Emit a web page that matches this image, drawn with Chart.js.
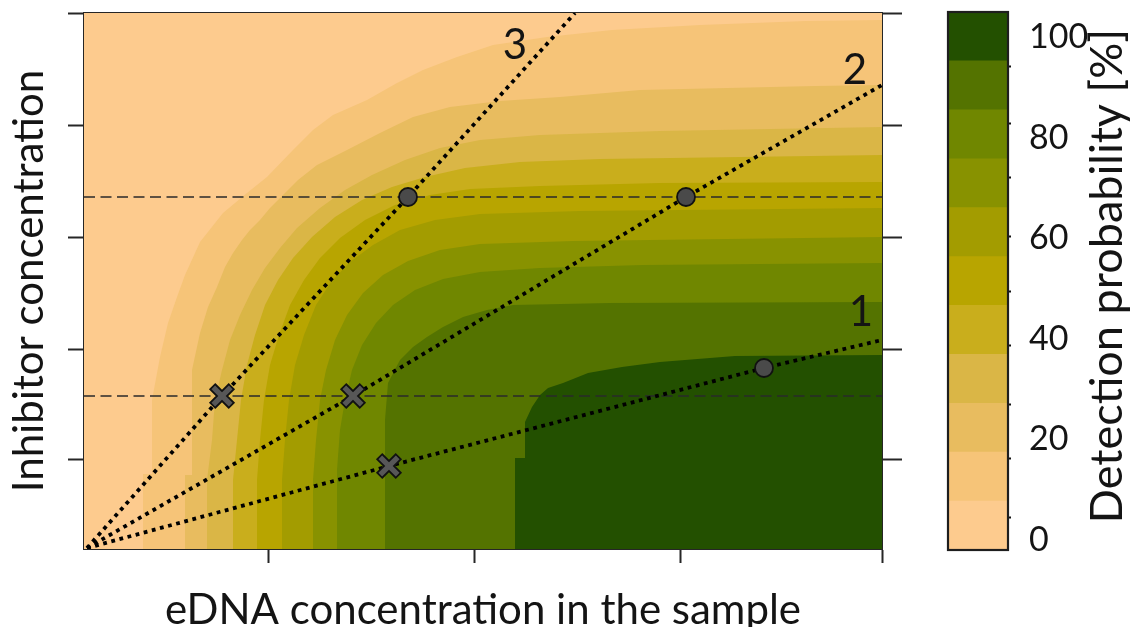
<!DOCTYPE html>
<html><head><meta charset="utf-8">
<script src="https://cdn.jsdelivr.net/npm/chart.js@4/dist/chart.umd.min.js"></script>
<style>
html,body{margin:0;padding:0;background:#fff;}
#wrap{position:relative;width:1132px;height:627px;overflow:hidden;background:#fff;}
#main{position:absolute;left:0;top:0;}
#cbar{position:absolute;left:940px;top:0;}
</style></head><body>
<div id="wrap"><canvas id="main" width="940" height="627"></canvas><canvas id="cbar" width="192" height="627"></canvas></div>
<script>
// ---------- data (arbitrary units: x = eDNA, y = inhibitor) ----------
const xTickValues = [184, 390, 596, 798];
const yTickValues = [89, 200, 312, 424, 536];

// iso-probability boundaries of the detection-probability field (5 %, 15 %, ... 95 %)
const fieldTop = [[0,536],[798,536]];
const iso05 = [[59,0],[59,75],[68,75],[68,149],[76,192],[84,226],[93,252],[101,274],[116,307],[139,336],[163,356],[183,372],[209,399],[229,419],[249,434],[283,449],[313,466],[339,479],[373,492],[409,504],[463,512],[528,519],[616,524],[722,528],[798,529]];
const iso15 = [[101,0],[101,74],[108,74],[108,179],[116,216],[124,242],[133,262],[141,282],[149,296],[158,309],[166,319],[176,329],[186,341],[196,351],[214,369],[233,384],[263,399],[296,416],[329,432],[366,442],[416,448],[476,452],[556,459],[731,463],[798,464]];
const iso25 = [[123,0],[123,69],[128,109],[131,149],[138,179],[146,209],[156,234],[168,259],[181,281],[196,301],[213,321],[236,341],[261,359],[288,374],[321,389],[356,401],[396,409],[456,414],[576,418],[798,422]];
const iso35 = [[149,0],[149,69],[153,109],[157,149],[163,184],[171,214],[181,244],[194,269],[209,291],[228,312],[251,332],[278,349],[308,362],[341,372],[381,381],[436,387],[516,390],[798,394]];
const iso45 = [[173,0],[173,69],[176,109],[180,149],[186,184],[195,214],[206,244],[220,269],[236,291],[256,311],[281,329],[311,344],[346,354],[386,360],[456,363],[576,366],[798,367]];
const iso55 = [[198,0],[198,69],[201,109],[205,149],[211,184],[220,214],[232,244],[247,267],[266,287],[289,304],[316,319],[351,329],[396,335],[496,338],[798,341]];
const iso65 = [[229,0],[229,69],[232,109],[236,149],[242,179],[251,209],[263,234],[279,256],[299,274],[324,288],[356,299],[396,305],[489,308],[798,312]];
const iso75 = [[253,0],[253,79],[256,119],[261,149],[268,179],[278,204],[292,226],[309,244],[331,259],[359,270],[396,277],[456,281],[559,284],[798,286]];
const iso85 = [[301,0],[301,129],[304,166],[316,189],[329,202],[343,212],[359,222],[379,232],[403,239],[429,244],[526,246],[798,247]];
const iso95 = [[431,0],[431,91],[441,91],[441,127],[448,142],[456,154],[464,161],[479,166],[504,176],[538,182],[576,187],[651,193],[798,194]];

// dotted ratio lines 1, 2, 3
const ratio1 = [[3,1],[305,83],[680,181],[798,209]];
const ratio2 = [[3,1],[269,153],[602,352],[798,464]];
const ratio3 = [[3,1],[138,153],[324,352],[491,536]];
const ratioNames = ['1', '2', '3'];
// dashed inhibitor levels
const inhibitorLevels = [153, 352];
// markers
const crossPoints = [[138,153],[269,153],[305,83]];
const circlePoints = [[324,352],[602,352],[680,181]];

// colour bar
const cbBandEdges = [-2, 7.73, 17.45, 27.18, 36.91, 46.64, 56.36, 66.09, 75.82, 85.55, 95.27, 105];
const cbTickValues = [0, 20, 40, 60, 80, 100];
const cbMinorTicks = [4.4, 16.1, 27.0, 38.6, 49.5, 60.4, 72.0, 82.9, 94.2];

// ---------- styles ----------
const bandColors = ['#fdcb8e','#f6c478','#e8bc5f','#dab646','#c9ae1c','#b8a500','#a39c00','#889200','#708700','#547300','#235000'];
const tagAnchors = [[777,237],[771,479],[431,504]];
const FONT = 'Lato';
const INK = '#141414';
const AX = '#262626';

const P = a => a.map(([x, y]) => ({x, y}));
const isolines = [fieldTop, iso05, iso15, iso25, iso35, iso45, iso55, iso65, iso75, iso85, iso95];

const datasets = [];
isolines.forEach((arr, k) => {
  datasets.push({type:'line', data:P(arr), fill:'start', backgroundColor:bandColors[k],
    borderColor:'rgba(0,0,0,0)', borderWidth:0, pointRadius:0, tension:0, order:60 - k});
});
inhibitorLevels.forEach(v => {
  datasets.push({type:'line', data:[{x:0,y:v},{x:798,y:v}], fill:false, borderColor:'#2a2a2a',
    borderWidth:1.5, borderDash:[11,5.5], pointRadius:0, order:10});
});
[ratio1, ratio2, ratio3].forEach(r => {
  datasets.push({type:'line', data:P(r), fill:false, borderColor:'#000', borderWidth:3.8,
    borderDash:[3.8,4.6], borderCapStyle:'butt', pointRadius:0, tension:0, order:8});
});
datasets.push({type:'scatter', data:P(crossPoints), pointStyle:'crossRot', pointRadius:14,
  borderWidth:9, borderColor:'#111', backgroundColor:'#111', order:4});
datasets.push({type:'scatter', data:P(crossPoints), pointStyle:'crossRot', pointRadius:12.3,
  borderWidth:5.2, borderColor:'#575757', backgroundColor:'#575757', order:3});
datasets.push({type:'scatter', data:P(circlePoints), pointStyle:'circle', pointRadius:9,
  borderWidth:1.8, borderColor:'#111', backgroundColor:'#4a4a4a', order:2});

const tagPlugin = {
  id:'tags',
  afterDatasetsDraw(chart){
    const {ctx, scales:{x, y}} = chart;
    ctx.save();
    ctx.font = '42px ' + FONT;
    ctx.fillStyle = INK;
    ctx.textAlign = 'center';
    ctx.textBaseline = 'middle';
    ratioNames.forEach((t, i) => {
      ctx.fillText(t, x.getPixelForValue(tagAnchors[i][0]), y.getPixelForValue(tagAnchors[i][1]));
    });
    ctx.restore();
  }
};

const tickGrid = len => ({display:true, drawOnChartArea:false, drawTicks:true, tickLength:len, tickWidth:2, tickColor:AX});
const border = {display:true, width:2, color:AX};
const setTicks = vals => s => { s.ticks = vals.map(v => ({value:v})); };
const noPad = s => { s.paddingTop = 0; s.paddingBottom = 0; s.paddingLeft = 0; s.paddingRight = 0; };

new Chart(document.getElementById('main'), {
  type:'line',
  data:{datasets},
  plugins:[tagPlugin],
  options:{
    responsive:false, animation:false, events:[],
    layout:{padding:0, autoPadding:false},
    plugins:{legend:{display:false}, tooltip:{enabled:false}},
    scales:{
      x:{type:'linear', position:'bottom', min:0, max:798, afterBuildTicks:setTicks(xTickValues),
        ticks:{display:false}, grid:tickGrid(14), border,
        title:{display:true, text:'eDNA concentration in the sample', color:INK,
          font:{family:FONT, size:42, lineHeight:0.8}, padding:{top:0, bottom:0}},
        afterFit:s => { noPad(s); s.height = 78; }},
      y:{type:'linear', position:'left', min:0, max:536, afterBuildTicks:setTicks(yTickValues),
        ticks:{display:false}, grid:tickGrid(16), border,
        title:{display:true, text:'Inhibitor concentration', color:INK,
          font:{family:FONT, size:42, lineHeight:0.8}, padding:{top:13, bottom:0}},
        afterFit:s => { noPad(s); s.width = 84; }},
      x2:{type:'linear', position:'top', min:0, max:798, ticks:{display:false},
        grid:{display:false, drawTicks:false}, border, afterFit:s => { noPad(s); s.height = 13; }},
      y2:{type:'linear', position:'right', min:0, max:536, afterBuildTicks:setTicks(yTickValues),
        ticks:{display:false}, grid:tickGrid(20), border, afterFit:s => { noPad(s); s.width = 58; }}
    }
  }
});

// ---------- colour bar ----------
const cbDatasets = bandColors.map((c, k) => ({
  data:[[cbBandEdges[k], cbBandEdges[k + 1]]], backgroundColor:c, borderWidth:0,
  grouped:false, barPercentage:1, categoryPercentage:1, borderSkipped:false
}));
const cbFrame = {
  id:'cbFrame',
  afterDatasetsDraw(chart){
    const {ctx, chartArea:a} = chart;
    ctx.save(); ctx.strokeStyle = '#1e1e1e'; ctx.lineWidth = 2.2;
    ctx.strokeRect(a.left, a.top, a.right - a.left, a.bottom - a.top);
    ctx.restore();
  },
  afterDraw(chart){
    const {ctx, chartArea:a} = chart;
    ctx.save();
    ctx.font = '45px ' + FONT; ctx.fillStyle = INK;
    ctx.textAlign = 'center'; ctx.textBaseline = 'alphabetic';
    ctx.translate(a.right + 101, (a.top + a.bottom) / 2 - 5);
    ctx.rotate(-Math.PI / 2);
    ctx.fillText('Detection probability [%]', 0, 13);
    ctx.restore();
  }
};
new Chart(document.getElementById('cbar'), {
  type:'bar',
  data:{labels:['P'], datasets:cbDatasets},
  plugins:[cbFrame],
  options:{
    responsive:false, animation:false, events:[],
    layout:{padding:{left:8, top:12, bottom:77, right:0}, autoPadding:false},
    plugins:{legend:{display:false}, tooltip:{enabled:false}},
    scales:{
      x:{type:'category', display:false},
      y:{type:'linear', position:'right', min:-2, max:105, weight:1, afterBuildTicks:setTicks(cbTickValues),
        ticks:{color:INK, font:{family:FONT, size:34}, padding:18},
        grid:{display:false, drawTicks:false}, border:{display:false}, afterFit:s => { noPad(s); s.width = 121; }},
      yMinor:{type:'linear', position:'right', min:-2, max:105, weight:0, afterBuildTicks:setTicks(cbMinorTicks),
        ticks:{display:false}, grid:{display:true, drawOnChartArea:false, drawTicks:true, tickLength:3, tickWidth:2, tickColor:'#111'},
        border:{display:false}, afterFit:s => { noPad(s); s.width = 3; }}
    }
  }
});
</script></body></html>
